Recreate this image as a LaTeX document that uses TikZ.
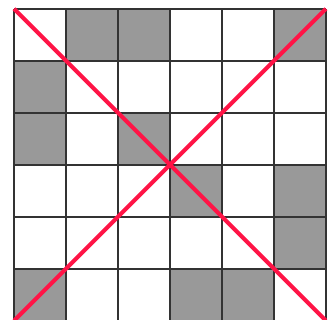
\documentclass[tikz,border=0pt]{standalone}
\definecolor{ink}{RGB}{51,51,51}
\definecolor{shade}{RGB}{153,153,153}
\definecolor{cross}{RGB}{255,20,70}
\usepackage{tikz}
\tikzset{
  cell/.style={fill=shade, draw=none},
  gridline/.style={draw=ink, line width=1.1pt},
  diag/.style={draw=cross, line width=2.2pt},
}

\begin{document}
\begin{tikzpicture}
    \useasboundingbox (-0.27,0.02) rectangle (6.08,6.17);
    % --- shaded cells (column, row from top) ---
    \foreach \c/\r in {1/0,2/0,5/0,0/1,0/2,2/2,3/3,5/3,5/4,0/5,3/5,4/5}
      \fill[cell] (\c,5-\r) rectangle ++(1,1);
    % --- the grid ---
    \draw[gridline] (0,0) grid (6,6);
    % --- the two diagonals ---
    \draw[diag] (0,6) -- (6,0);
    \draw[diag] (0,0) -- (6,6);
\end{tikzpicture}
\end{document}
